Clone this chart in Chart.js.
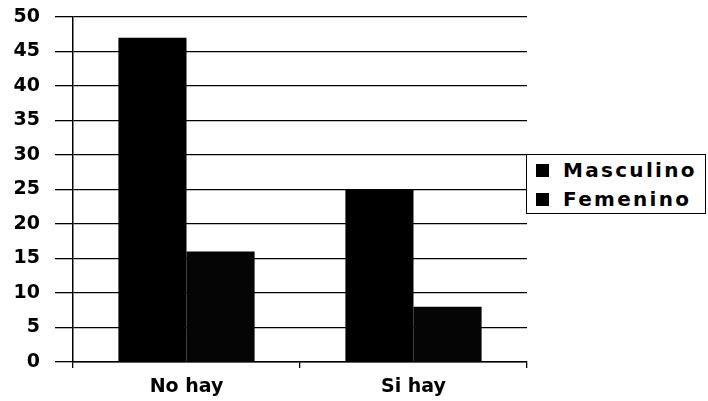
<!DOCTYPE html>
<html><head><meta charset="utf-8">
<script src="https://cdn.jsdelivr.net/npm/chart.js@4"></script>
<style>
html,body{margin:0;padding:0;background:#fff;}
#wrap{position:relative;width:708px;height:401px;}
#legend{position:absolute;left:526px;top:154px;width:178px;height:58px;border:1px solid #000;background:#fff;font:bold 20px "DejaVu Sans",sans-serif;letter-spacing:2.3px;color:#000;}
#legend div{height:28px;line-height:28px;margin-top:1px;white-space:nowrap;}
#legend span{display:inline-block;width:13px;height:13px;background:#000;margin:0 14px 0 9px;vertical-align:0px;}
</style></head>
<body><div id="wrap"><canvas id="c" width="708" height="401"></canvas>
<div id="legend"></div></div>
<script>
const categories = ["No hay", "Si hay"];
const seriesNames = ["Masculino", "Femenino"];
const masculino = [47, 25];
const femenino = [16, 8];
const yTicks = [0,5,10,15,20,25,30,35,40,45,50];

const font = {family:'"DejaVu Sans", sans-serif', size:19, weight:'bold'};
new Chart(document.getElementById('c'), {
  type:'bar',
  data:{labels:categories, datasets:[
    {label:seriesNames[0], data:masculino, backgroundColor:'#000', borderWidth:0, barPercentage:1, categoryPercentage:0.6},
    {label:seriesNames[1], data:femenino, backgroundColor:'#050505', borderWidth:0, barPercentage:1, categoryPercentage:0.6}
  ]},
  options:{
    responsive:false, animation:false,
    layout:{padding:{top:17,right:181,bottom:0,left:0}},
    plugins:{legend:{display:false}, tooltip:{enabled:false}},
    scales:{
      y:{min:0,max:50,
         afterBuildTicks:(s)=>{s.ticks = yTicks.map(v=>({value:v}));},
         afterFit:(s)=>{s.width=73; s.paddingTop=0; s.paddingBottom=0;},
         ticks:{font, color:'#000', padding:15},
         grid:{color:'#000', lineWidth:1.3, tickLength:18},
         border:{color:'#000', width:1.5}},
      x:{afterFit:(s)=>{s.height=39;},
         ticks:{font, color:'#000', padding:8},
         grid:{drawOnChartArea:false, color:'#000', tickLength:6, lineWidth:1.3},
         border:{color:'#000', width:1.5}}
    }
  }
});
const lg = document.getElementById('legend');
seriesNames.forEach(n=>{const d=document.createElement('div');d.innerHTML='<span></span>'+n;lg.appendChild(d);});
</script></body></html>
